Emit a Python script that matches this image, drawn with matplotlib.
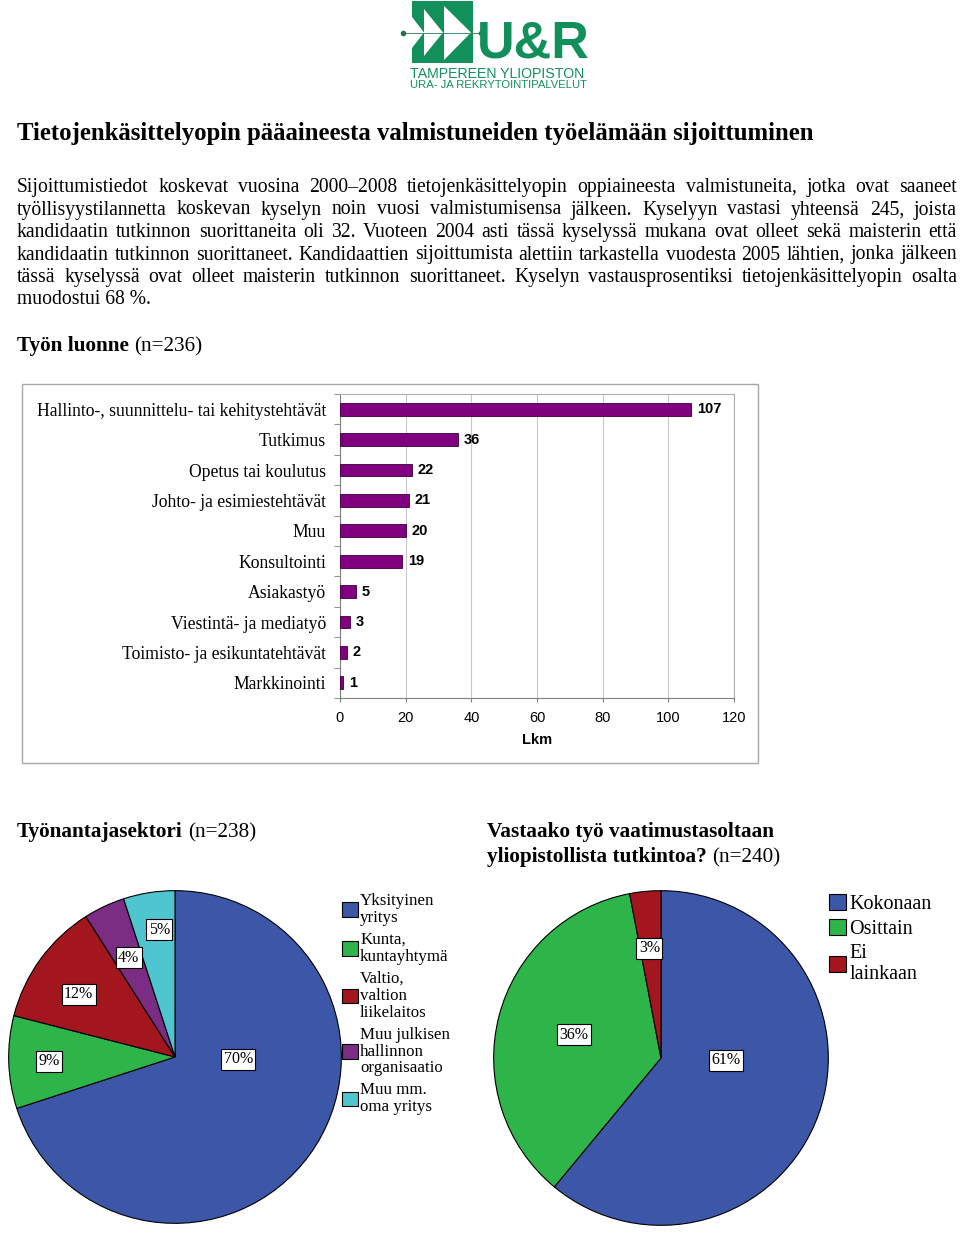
import matplotlib
matplotlib.use("Agg")
import matplotlib.pyplot as plt
from matplotlib.patches import Rectangle, Polygon
import numpy as np

W, H = 960, 1233
SERIF = "Liberation Serif"
SANS = "Liberation Sans"
GREEN = "#12905c"

# --- data ---
job_types = ["Hallinto-, suunnittelu- tai kehitystehtävät", "Tutkimus",
             "Opetus tai koulutus", "Johto- ja esimiestehtävät", "Muu",
             "Konsultointi", "Asiakastyö", "Viestintä- ja mediatyö",
             "Toimisto- ja esikuntatehtävät", "Markkinointi"]
job_counts = [107, 36, 22, 21, 20, 19, 5, 3, 2, 1]
x_ticks = [0, 20, 40, 60, 80, 100, 120]

sector_labels = ["Yksityinen\nyritys", "Kunta,\nkuntayhtymä",
                 "Valtio,\nvaltion\nliikelaitos",
                 "Muu julkisen\nhallinnon\norganisaatio", "Muu mm.\noma yritys"]
sector_pct = [70, 9, 12, 4, 5]
sector_colors = ["#3c56a8", "#2db54a", "#a3161d", "#7b2c83", "#4fc6cf"]

level_labels = ["Kokonaan", "Osittain", "Ei\nlainkaan"]
level_pct = [61, 36, 3]
level_colors = ["#3c56a8", "#2db54a", "#a3161d"]

title = "Tietojenkäsittelyopin pääaineesta valmistuneiden työelämään sijoittuminen"
intro_lines = [
    "Sijoittumistiedot koskevat vuosina 2000–2008 tietojenkäsittelyopin oppiaineesta valmistuneita, jotka ovat saaneet",
    "työllisyystilannetta koskevan kyselyn noin vuosi valmistumisensa jälkeen. Kyselyyn vastasi yhteensä 245, joista",
    "kandidaatin tutkinnon suorittaneita oli 32. Vuoteen 2004 asti tässä kyselyssä mukana ovat olleet sekä maisterin että",
    "kandidaatin tutkinnon suorittaneet. Kandidaattien sijoittumista alettiin tarkastella vuodesta 2005 lähtien, jonka jälkeen",
    "tässä kyselyssä ovat olleet maisterin tutkinnon suorittaneet. Kyselyn vastausprosentiksi tietojenkäsittelyopin osalta",
    "muodostui 68 %.",
]

fig = plt.figure(figsize=(W / 100, H / 100), dpi=100)
renderer = fig.canvas.get_renderer()

# page axes in pixel coordinates (y down)
page = fig.add_axes([0, 0, 1, 1])
page.set_xlim(0, W)
page.set_ylim(H, 0)
page.axis("off")


def width_of(t):
    return t.get_window_extent(renderer).width


def justified(line, y, size, x0=17, x1=957):
    words = line.split()
    texts = [page.text(0, y, w, fontsize=size, family=SERIF, va="baseline") for w in words]
    widths = [width_of(t) for t in texts]
    gap = (x1 - x0 - sum(widths)) / (len(words) - 1)
    x = x0
    for t, w in zip(texts, widths):
        t.set_x(x)
        x += w + gap


def heading(x, y, bold, rest, size):
    t = page.text(x, y, bold, fontsize=size, fontweight="bold", family=SERIF, va="baseline")
    w = width_of(t)
    page.text(x + w + size * 0.35, y, rest, fontsize=size, family=SERIF, va="baseline")


# --- logo ---
page.add_patch(Rectangle((412, 1), 31, 62, color=GREEN, lw=0))
page.add_patch(Rectangle((443, 1), 30, 62, color=GREEN, lw=0))
page.add_patch(Polygon([(412, 17), (424, 32.5), (412, 48)], color="white", lw=0))
page.add_patch(Polygon([(424, 9), (443, 32.5), (424, 56)], color="white", lw=0))
page.add_patch(Polygon([(444, 6), (471, 32.5), (444, 60)], color="white", lw=0))
page.plot([403, 481], [32.5, 32.5], color="#3f8f6a", lw=0.7)
page.plot([403, 481], [32.5, 32.5], "o", color="#2a6f50", ms=3)

page.text(477, 57, "U&R", fontsize=37.5, fontweight="bold", family=SANS,
          color=GREEN, va="baseline")
page.text(410, 78, "TAMPEREEN YLIOPISTON", fontsize=10.2, family=SANS, color=GREEN, va="baseline")
page.text(410, 88.5, "URA- JA REKRYTOINTIPALVELUT", fontsize=8.1, family=SANS, color=GREEN, va="baseline")

# --- text ---
page.text(17, 140, title, fontsize=17.8, fontweight="bold", family=SERIF, va="baseline")
baselines = [192, 214.5, 237, 259.5, 282, 304]
for line, yb in zip(intro_lines[:-1], baselines[:-1]):
    justified(line, yb, 14.1)
page.text(17, baselines[-1], intro_lines[-1], fontsize=14.1, family=SERIF, va="baseline")

heading(17, 351, "Työn luonne", "(n=236)", 15.3)
heading(17, 837, "Työnantajasektori", "(n=238)", 15.3)
page.text(487, 837, "Vastaako työ vaatimustasoltaan", fontsize=15.3, fontweight="bold",
          family=SERIF, va="baseline")
heading(487, 862, "yliopistollista tutkintoa?", "(n=240)", 15.3)

# --- bar chart ---
page.add_patch(Rectangle((22, 384), 736, 379, fill=False, ec="#a8a8a8", lw=1))
ax = fig.add_axes([340 / W, 1 - 698 / H, (734 - 340) / W, (698 - 394) / H])
pos = np.arange(len(job_types))
ax.barh(pos, job_counts, height=0.42, color="#800080", edgecolor="#3a003a", lw=0.6, zorder=3)
ax.set_xlim(0, 120)
ax.set_ylim(len(job_types) - 0.5, -0.5)
ax.set_xticks(x_ticks)
ax.set_xticklabels([str(v) for v in x_ticks], family=SANS, fontsize=10.5)
ax.set_yticks(pos)
ax.set_yticklabels(job_types, family=SERIF, fontsize=12.7)
ax.set_yticks(np.arange(len(job_types) + 1) - 0.5, minor=True)
ax.tick_params(axis="y", which="major", length=0, pad=10)
ax.tick_params(axis="y", which="minor", length=4, color="#808080")
ax.tick_params(axis="x", length=3, color="#808080", pad=6)
ax.grid(axis="x", color="#c8c8c8", lw=0.8, zorder=0)
for side in ["top", "right"]:
    ax.spines[side].set_color("#b0b0b0")
for side in ["left", "bottom"]:
    ax.spines[side].set_color("#808080")
for i, v in enumerate(job_counts):
    ax.annotate(str(v), (v, i), xytext=(4, 0), textcoords="offset points", va="center",
                fontsize=10.5, fontweight="bold", family=SANS)
ax.set_xlabel("Lkm", fontsize=10.5, fontweight="bold", family=SANS, labelpad=6)

# --- pies ---
label_box = dict(boxstyle="square,pad=0.15", fc="white", ec="black", lw=0.8)


def draw_pie(cx, cy, r, values, colors, label_polar):
    pax = fig.add_axes([(cx - r) / W, 1 - (cy + r) / H, 2 * r / W, 2 * r / H])
    wedges, _ = pax.pie(values, colors=colors, startangle=90, counterclock=False,
                        wedgeprops=dict(edgecolor="black", linewidth=0.8))
    pax.set_xlim(-1.01, 1.01)
    pax.set_ylim(-1.01, 1.01)
    for v, (dist, ang) in zip(values, label_polar):
        a = np.deg2rad(ang)
        pax.text(dist * np.cos(a), dist * np.sin(a), f"{v}%", ha="center", va="center",
                 fontsize=11.5, family=SERIF, bbox=label_box)
    return wedges


sector_label_polar = [(0.38, -2), (0.76, 182), (0.69, 147), (0.66, 115), (0.77, 97)]
level_label_polar = [(0.39, -2), (0.54, 165), (0.66, 96)]

w1 = draw_pie(175, 1057, 168, sector_pct, sector_colors, sector_label_polar)
w2 = draw_pie(661, 1058, 169, level_pct, level_colors, level_label_polar)

leg1 = fig.legend(w1, sector_labels, loc="upper left", bbox_to_anchor=(342 / W, 1 - 893 / H),
                  frameon=False, prop=dict(family=SERIF, size=12.2), handlelength=0.95,
                  handleheight=0.95, handletextpad=0.12, labelspacing=0.36,
                  borderaxespad=0, borderpad=0)
leg2 = fig.legend(w2, level_labels, loc="upper left", bbox_to_anchor=(829 / W, 1 - 894 / H),
                  frameon=False, prop=dict(family=SERIF, size=14.5), handlelength=0.85,
                  handleheight=0.85, handletextpad=0.15, labelspacing=0.25,
                  borderaxespad=0, borderpad=0)
for t in leg1.get_texts():
    t.set_linespacing(1.07)
for t in leg2.get_texts():
    t.set_linespacing(1.15)

fig.savefig("out.png", dpi=100)
